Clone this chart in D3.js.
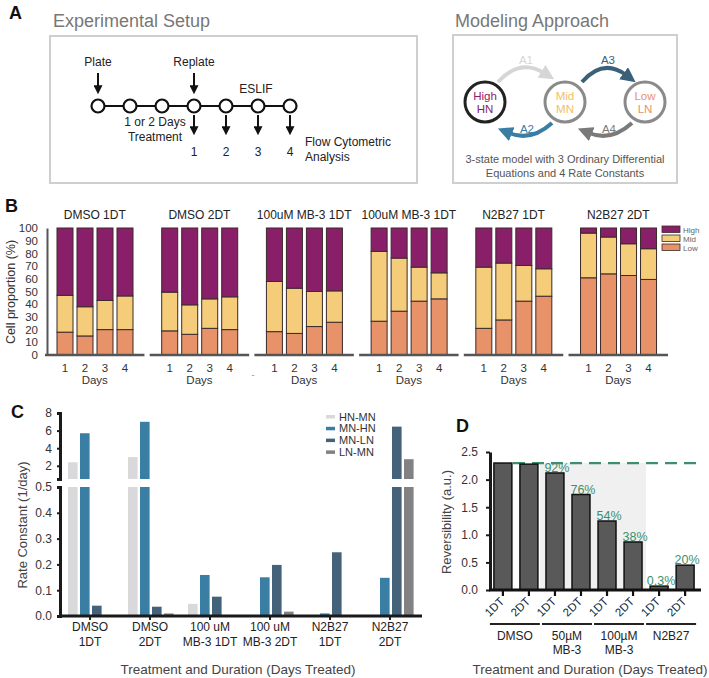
<!DOCTYPE html>
<html><head><meta charset="utf-8">
<script src="https://cdn.jsdelivr.net/npm/d3@7"></script>
<style>body{margin:0;background:#fff} svg{font-family:"Liberation Sans",Arial,Helvetica,sans-serif}</style>
</head><body>
<svg id="c" width="709" height="678"></svg>
<script>
// ---------------- DATA ----------------
// Panel A
const timelineNodes = ["p","d1","d2","r","e2","e3","e4"];
const analysisDays = ["1","2","3","4"];
const states = ["High","Mid","Low"];
const stateCodes = ["HN","MN","LN"];
// Panel B
const bGroups = ["DMSO 1DT","DMSO 2DT","100uM MB-3 1DT","100uM MB-3 1DT","N2B27 1DT","N2B27 2DT"];
const bDays = ["1","2","3","4"];
const bLow  = [[18,15,20,20],[19,16.3,21,20],[18.4,17,22.4,25.8],[26.6,34.5,42.4,44.2],[21,27.6,42.4,46.3],[60.8,63.9,62.6,59.5]];
const bMid  = [[29,23,23,26.5],[30.5,23.2,23.2,25.8],[39.5,35.6,27.6,24.7],[55,41.8,26.8,20.5],[48.2,44.8,28.1,21.6],[35.2,29,25,24.2]];
const bHigh = [[53,62,57,53.5],[50.5,60.5,55.8,54.2],[42.1,47.4,50,49.5],[18.4,23.7,30.8,35.3],[30.8,27.6,29.5,32.1],[4,7.1,12.4,16.3]];
const bTicks = [0,10,20,30,40,50,60,70,80,90,100];
// Panel C
const cCats = [["DMSO","1DT"],["DMSO","2DT"],["100 uM","MB-3 1DT"],["100 uM","MB-3 2DT"],["N2B27","1DT"],["N2B27","2DT"]];
const cSeries = ["HN-MN","MN-HN","MN-LN","LN-MN"];
const hnMn = [2.4, 3.0, 0.047, 0, 0, 0];
const mnHn = [5.7, 7.0, 0.159, 0.15, 0.01, 0.148];
const mnLn = [0.04, 0.036, 0.075, 0.198, 0.247, 6.45];
const lnMn = [0, 0.01, 0, 0.017, 0, 2.75];
const cUpperTicks = [2,4,6,8];
const cLowerTicks = [0,0.1,0.2,0.3,0.4,0.5];
// Panel D
const dLabels = ["1DT","2DT","1DT","2DT","1DT","2DT","1DT","2DT"];
const dValues = [2.30, 2.28, 2.12, 1.73, 1.25, 0.87, 0.07, 0.45];
const dPct = ["","","92%","76%","54%","38%","0.3%","20%"];
const dGroups = [["DMSO"],["50µM","MB-3"],["100µM","MB-3"],["N2B27"]];
const dRef = 2.3;
const dTicks = [0,0.5,1,1.5,2,2.5];

// ---------------- SETUP ----------------
const svg = d3.select("#c");
const defs = svg.append("defs");
function marker(id, color, size, refX){
  defs.append("marker").attr("id",id).attr("viewBox","0 0 10 10")
    .attr("refX",refX).attr("refY",5).attr("markerWidth",size).attr("markerHeight",size)
    .attr("markerUnits","userSpaceOnUse").attr("orient","auto")
    .append("path").attr("d","M0,0 L10,5 L0,10 z").attr("fill",color);
}
function txt(g,x,y,s,size,opts={}){
  return g.append("text").attr("x",x).attr("y",y).text(s).attr("font-size",size)
    .attr("fill",opts.fill||"#222").attr("text-anchor",opts.anchor||"start")
    .attr("font-weight",opts.weight||"normal");
}
function letter(x,y,s){ txt(svg,x,y,s,18,{weight:"bold",fill:"#111"}); }

// ---------------- PANEL A ----------------
letter(9,19,"A");
txt(svg,53,27,"Experimental Setup",18,{fill:"#777"});
txt(svg,455,27,"Modeling Approach",18,{fill:"#777"});
svg.append("rect").attr("x",50).attr("y",36).attr("width",367).attr("height",147).attr("fill","none").attr("stroke","#cfcfcf").attr("stroke-width",2);
svg.append("rect").attr("x",453).attr("y",35).attr("width",224).attr("height",148).attr("fill","none").attr("stroke","#cfcfcf").attr("stroke-width",2);

marker("ab","#111",9,3);
const xT = d3.scalePoint().domain(timelineNodes).range([98,290]);
const gA = svg.append("g");
gA.append("line").attr("x1",xT("p")).attr("x2",xT("e4")).attr("y1",106).attr("y2",106).attr("stroke","#111").attr("stroke-width",2.2);
gA.selectAll("circle.tl").data(timelineNodes).join("circle").attr("class","tl")
  .attr("cx",d=>xT(d)).attr("cy",106).attr("r",6.5).attr("fill","#fff").attr("stroke","#111").attr("stroke-width",2.2);
[["p","Plate"],["r","Replate"]].forEach(([k,s])=>{
  txt(gA,xT(k),66,s,12,{anchor:"middle"});
  gA.append("line").attr("x1",xT(k)).attr("x2",xT(k)).attr("y1",73).attr("y2",88).attr("stroke","#111").attr("stroke-width",2).attr("marker-end","url(#ab)");
});
txt(gA,256,93,"ESLIF",12,{anchor:"middle"});
txt(gA,155,126,"1 or 2 Days",12,{anchor:"middle"});
txt(gA,155,141,"Treatment",12,{anchor:"middle"});
["r","e2","e3","e4"].forEach((k,i)=>{
  gA.append("line").attr("x1",xT(k)).attr("x2",xT(k)).attr("y1",115).attr("y2",129).attr("stroke","#111").attr("stroke-width",2).attr("marker-end","url(#ab)");
  txt(gA,xT(k),156,analysisDays[i],12,{anchor:"middle"});
});
txt(gA,305,146,"Flow Cytometric",12);
txt(gA,305,161,"Analysis",12);

// modeling diagram
const xS = d3.scalePoint().domain(states).range([485,645]);
const stateStroke = ["#222","#8a8a8a","#8a8a8a"];
const stateText = ["#8b1d6b","#f0c064","#e8926a"];
states.forEach((s,i)=>{
  svg.append("circle").attr("cx",xS(s)).attr("cy",102).attr("r",20).attr("fill","#fff").attr("stroke",stateStroke[i]).attr("stroke-width",3);
  txt(svg,xS(s),100,s,11.5,{anchor:"middle",fill:stateText[i]});
  txt(svg,xS(s),113,stateCodes[i],11.5,{anchor:"middle",fill:stateText[i]});
});
const arrows = [
  {id:"a1",c:"#d6d6d6",d:"M498,82 Q520,58 544,73",lab:"A1",lx:526,ly:64},
  {id:"a3",c:"#3b6079",d:"M582,82 Q603,58 626,75",lab:"A3",lx:608,ly:64},
  {id:"a2",c:"#3a7ea3",d:"M552,123 Q531,142 509,133",lab:"A2",lx:527,ly:133},
  {id:"a4",c:"#7a7a7a",d:"M632,123 Q611,142 589,133",lab:"A4",lx:609,ly:133}
];
arrows.forEach(a=>{
  marker(a.id,a.c,15,2);
  svg.append("path").attr("d",a.d).attr("fill","none").attr("stroke",a.c).attr("stroke-width",4).attr("marker-end",`url(#${a.id})`);
  txt(svg,a.lx,a.ly,a.lab,11.5,{anchor:"middle",fill:a.c});
});
txt(svg,565,163,"3-state model with 3 Ordinary Differential",11,{anchor:"middle",fill:"#555"});
txt(svg,565,177,"Equations and 4 Rate Constants",11,{anchor:"middle",fill:"#555"});

// ---------------- PANEL B ----------------
letter(5,212,"B");
const yB = d3.scaleLinear().domain([0,100]).range([355,228]);
const xB = d3.scaleBand().domain(d3.range(6)).range([45,668]).paddingInner(0.05);
const xBi = d3.scaleBand().domain(bDays).range([12,88]).paddingInner(0.2);
const gB = svg.append("g");
const yAxB = gB.append("g").attr("transform","translate(47,0)")
  .call(d3.axisLeft(yB).tickValues(bTicks).tickSize(0).tickPadding(9));
yAxB.select(".domain").attr("stroke","#555").attr("stroke-width",2);
yAxB.selectAll("text").attr("font-size",11.5).attr("fill","#333").attr("font-family",null);
gB.append("text").attr("transform","translate(15,292) rotate(-90)").attr("text-anchor","middle")
  .attr("font-size",12.5).attr("fill","#333").text("Cell proportion (%)");
const bCols = {High:"#8a1f69",Mid:"#f5cd7a",Low:"#e8926a"};
bGroups.forEach((name,gi)=>{
  const g = gB.append("g").attr("transform",`translate(${xB(gi)},0)`);
  bDays.forEach((d,di)=>{
    const lo=bLow[gi][di], mi=bMid[gi][di], hi=bHigh[gi][di];
    const segs=[["Low",0,lo],["Mid",lo,lo+mi],["High",lo+mi,lo+mi+hi]];
    segs.forEach(([k,a,b])=>{
      g.append("rect").attr("x",xBi(d)).attr("width",xBi.bandwidth())
        .attr("y",yB(b)).attr("height",yB(a)-yB(b)).attr("fill",bCols[k]).attr("stroke","#3a2a2a").attr("stroke-width",1);
    });
    txt(g,xBi(d)+xBi.bandwidth()/2,372,d,11.5,{anchor:"middle",fill:"#333"});
  });
  g.append("line").attr("x1",0).attr("x2",xB.bandwidth()).attr("y1",355).attr("y2",355).attr("stroke","#555").attr("stroke-width",2.5);
  txt(g,xB.bandwidth()/2,219,name,12,{anchor:"middle",fill:"#222"});
  txt(g,xB.bandwidth()/2,384,"Days",11.5,{anchor:"middle",fill:"#333"});
});
txt(gB,253,378,"-",9,{fill:"#888",anchor:"middle"});
// legend B
["High","Mid","Low"].forEach((k,i)=>{
  gB.append("rect").attr("x",662).attr("y",226+i*9).attr("width",18).attr("height",6.5).attr("fill",bCols[k]).attr("stroke","#3a2a2a").attr("stroke-width",0.8);
  txt(gB,683,232.5+i*9,k,8,{fill:"#666"});
});

// ---------------- PANEL C ----------------
letter(11,418,"C");
const gC = svg.append("g");
const yUp = d3.scaleLinear().domain([0.5,8]).range([479,413]);
const yLo = d3.scaleLinear().domain([0,0.5]).range([616,487]);
const xC = d3.scaleBand().domain(d3.range(6)).range([60,420]);
const xCi = d3.scaleBand().domain(cSeries).range([8,53.6]).paddingInner(0.2);
const cCols = {"HN-MN":"#d9d9db","MN-HN":"#3a7fa3","MN-LN":"#44637a","LN-MN":"#828282"};
const cVals = {"HN-MN":hnMn,"MN-HN":mnHn,"MN-LN":mnLn,"LN-MN":lnMn};
cCats.forEach((cat,i)=>{
  cSeries.forEach(s=>{
    const v = cVals[s][i]; if(v<=0) return;
    const x = xC(i)+xCi(s), w = xCi.bandwidth();
    const top = Math.min(v,0.5);
    gC.append("rect").attr("x",x).attr("width",w).attr("y",yLo(top)).attr("height",yLo(0)-yLo(top)).attr("fill",cCols[s]);
    if(v>0.5){
      gC.append("rect").attr("x",x).attr("width",w).attr("y",yUp(v)).attr("height",yUp(0.5)-yUp(v)).attr("fill",cCols[s]);
    }
  });
  const cx = xC(i)+xC.bandwidth()/2;
  gC.append("line").attr("x1",cx).attr("x2",cx).attr("y1",616).attr("y2",620).attr("stroke","#222").attr("stroke-width",2);
  txt(gC,cx,631,cat[0],12,{anchor:"middle"});
  txt(gC,cx,646,cat[1],12,{anchor:"middle"});
});
function styleAxis(sel,sw){
  sel.select(".domain").attr("stroke","#1a1a1a").attr("stroke-width",sw);
  sel.selectAll(".tick line").attr("stroke","#1a1a1a").attr("stroke-width",2);
  sel.selectAll("text").attr("font-size",12).attr("fill","#333").attr("font-family",null);
}
const axUp = gC.append("g").attr("transform","translate(60,0)")
  .call(d3.axisLeft(yUp).tickValues(cUpperTicks).tickSize(3).tickSizeOuter(3).tickPadding(5));
styleAxis(axUp,3);
const axLo = gC.append("g").attr("transform","translate(60,0)")
  .call(d3.axisLeft(yLo).tickValues(cLowerTicks).tickFormat(d3.format(".1f")).tickSize(3).tickSizeOuter(3).tickPadding(5));
styleAxis(axLo,3);
gC.append("line").attr("x1",59).attr("x2",422).attr("y1",616).attr("y2",616).attr("stroke","#1a1a1a").attr("stroke-width",3);
gC.append("text").attr("transform","translate(27,525) rotate(-90)").attr("text-anchor","middle")
  .attr("font-size",13).attr("fill","#444").text("Rate Constant (1/day)");
txt(gC,238,674,"Treatment and Duration (Days Treated)",13.5,{anchor:"middle",fill:"#444"});
cSeries.forEach((s,i)=>{
  gC.append("rect").attr("x",326).attr("y",415+i*11.8).attr("width",9).attr("height",3.5).attr("fill",cCols[s]);
  txt(gC,339,420.5+i*11.8,s,11,{fill:"#333"});
});

// ---------------- PANEL D ----------------
letter(456,432,"D");
const gD = svg.append("g");
const yD = d3.scaleLinear().domain([0,2.5]).range([590,452]);
const xD = d3.scaleBand().domain(d3.range(8)).range([490,698]).paddingInner(0.31).paddingOuter(0.15);
gD.append("rect").attr("x",xD(2)-6).attr("width",xD(5)+xD.bandwidth()+4-(xD(2)-6))
  .attr("y",yD(dRef)).attr("height",yD(0)-yD(dRef)).attr("fill","#f0f0f0");
gD.append("line").attr("x1",513).attr("x2",703).attr("y1",yD(dRef)).attr("y2",yD(dRef))
  .attr("stroke","#3f8f6c").attr("stroke-width",2.2).attr("stroke-dasharray","12,7");
dValues.forEach((v,i)=>{
  gD.append("rect").attr("x",xD(i)).attr("width",xD.bandwidth()).attr("y",yD(v)).attr("height",yD(0)-yD(v))
    .attr("fill","#595959").attr("stroke","#111").attr("stroke-width",1.5);
});
dValues.forEach((v,i)=>{
  if(dPct[i]) txt(gD,xD(i)+xD.bandwidth()/2+2,yD(v)-1,dPct[i],12.5,{anchor:"middle",fill:"#3f8f6c"});
});
const axD = gD.append("g").attr("transform","translate(490,0)")
  .call(d3.axisLeft(yD).tickValues(dTicks).tickFormat(d3.format(".1f")).tickSize(4).tickSizeOuter(0).tickPadding(8));
styleAxis(axD,3);
gD.append("line").attr("x1",489).attr("x2",701).attr("y1",590).attr("y2",590).attr("stroke","#111").attr("stroke-width",3);
dLabels.forEach((s,i)=>{
  const cx = xD(i)+xD.bandwidth()/2;
  gD.append("line").attr("x1",cx).attr("x2",cx).attr("y1",590).attr("y2",596).attr("stroke","#111").attr("stroke-width",2.2);
  gD.append("text").attr("transform",`translate(${cx+2},602) rotate(-45)`).attr("text-anchor","end")
    .attr("font-size",11.5).attr("fill","#222").text(s);
});
dGroups.forEach((lines,gi)=>{
  const x1 = xD(gi*2)-4, x2 = xD(gi*2+1)+xD.bandwidth()+2;
  gD.append("line").attr("x1",x1).attr("x2",x2).attr("y1",624).attr("y2",624).attr("stroke","#222").attr("stroke-width",2.2);
  lines.forEach((l,li)=>txt(gD,(x1+x2)/2,640+li*14,l,12,{anchor:"middle"}));
});
gD.append("text").attr("transform","translate(451,522) rotate(-90)").attr("text-anchor","middle")
  .attr("font-size",13).attr("fill","#444").text("Reversibility (a.u.)");
txt(gD,590,674,"Treatment and Duration (Days Treated)",13.5,{anchor:"middle",fill:"#444"});
</script>
</body></html>
